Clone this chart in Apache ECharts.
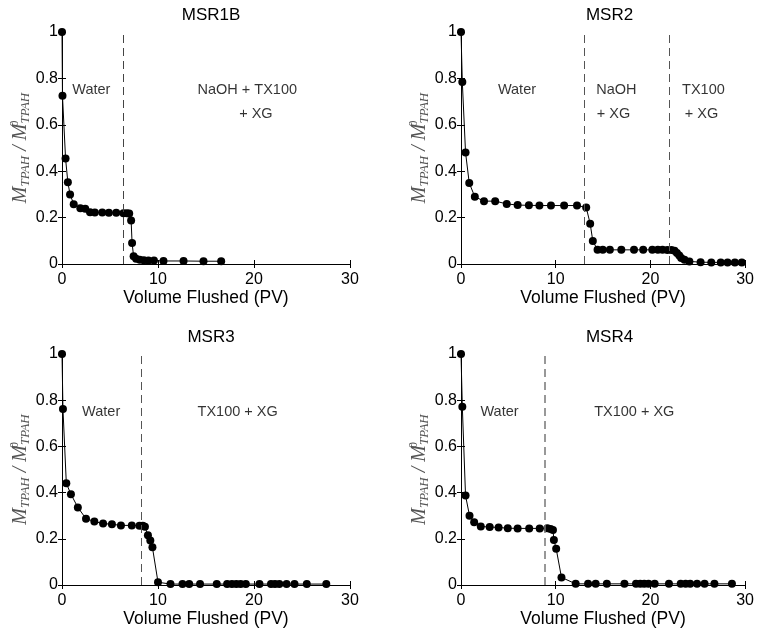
<!DOCTYPE html>
<html><head><meta charset="utf-8">
<script src="https://cdn.jsdelivr.net/npm/echarts@6/dist/echarts.min.js"></script>
<style>html,body{margin:0;padding:0;background:#fff}#c{width:757px;height:635px}</style>
</head><body><div id="c"></div>
<script>
// ---- data ----
const titles = ['MSR1B', 'MSR2', 'MSR3', 'MSR4'];
const xTickValues = [0, 10, 20, 30];
const yTickValues = [0, 0.2, 0.4, 0.6, 0.8, 1];

const x1 = [0, 0.05, 0.37, 0.61, 0.84, 1.22, 1.91, 2.42, 2.92, 3.42, 4.19, 4.88, 5.65, 6.4, 6.75, 7.0, 7.2, 7.3, 7.46, 7.72, 8.1, 8.52, 9.0, 9.58, 10.57, 12.66, 14.74, 16.58];
const y1 = [1.0, 0.725, 0.455, 0.352, 0.30, 0.258, 0.24, 0.238, 0.223, 0.222, 0.222, 0.221, 0.221, 0.219, 0.219, 0.218, 0.188, 0.09, 0.033, 0.023, 0.018, 0.016, 0.015, 0.015, 0.013, 0.013, 0.012, 0.012];

const x2 = [0, 0.14, 0.48, 0.87, 1.46, 2.43, 3.61, 4.83, 5.98, 7.17, 8.28, 9.5, 10.89, 12.25, 13.22, 13.64, 13.92, 14.42, 14.97, 15.72, 16.93, 18.27, 19.24, 20.2, 20.79, 21.28, 21.79, 22.22, 22.55, 22.8, 23.05, 23.25, 23.6, 24.12, 25.3, 26.43, 27.43, 28.15, 28.92, 29.65];
const y2 = [1.0, 0.784, 0.481, 0.349, 0.29, 0.271, 0.271, 0.259, 0.254, 0.253, 0.252, 0.252, 0.252, 0.252, 0.244, 0.174, 0.099, 0.061, 0.061, 0.061, 0.061, 0.061, 0.061, 0.061, 0.061, 0.061, 0.06, 0.06, 0.057, 0.047, 0.037, 0.026, 0.018, 0.011, 0.008, 0.007, 0.007, 0.007, 0.007, 0.007];

const x3 = [0, 0.1, 0.45, 0.93, 1.65, 2.5, 3.37, 4.28, 5.2, 6.14, 7.27, 8.07, 8.42, 8.64, 8.95, 9.2, 9.42, 10.0, 11.3, 12.55, 13.25, 14.38, 16.12, 17.2, 17.7, 18.16, 18.61, 19.15, 20.57, 21.77, 22.19, 22.64, 23.39, 24.22, 25.5, 27.53];
const y3 = [1.0, 0.762, 0.44, 0.393, 0.336, 0.287, 0.275, 0.266, 0.263, 0.258, 0.258, 0.257, 0.256, 0.252, 0.215, 0.193, 0.163, 0.012, 0.004, 0.004, 0.004, 0.004, 0.004, 0.004, 0.004, 0.004, 0.004, 0.004, 0.004, 0.004, 0.004, 0.004, 0.004, 0.004, 0.004, 0.004];

const x4 = [0, 0.14, 0.48, 0.9, 1.39, 2.09, 3.03, 3.97, 4.94, 5.98, 7.2, 8.31, 9.12, 9.46, 9.71, 9.81, 10.05, 10.61, 12.11, 13.42, 14.22, 15.4, 17.26, 18.48, 18.93, 19.35, 19.8, 20.45, 21.96, 23.2, 23.72, 24.2, 24.93, 25.72, 26.76, 28.61];
const y4 = [1.0, 0.772, 0.387, 0.3, 0.272, 0.253, 0.251, 0.249, 0.246, 0.245, 0.245, 0.245, 0.246, 0.242, 0.238, 0.195, 0.157, 0.033, 0.005, 0.005, 0.005, 0.005, 0.005, 0.005, 0.005, 0.005, 0.005, 0.005, 0.005, 0.005, 0.005, 0.005, 0.005, 0.005, 0.005, 0.005];

const dividers1 = [6.36];
const dividers2 = [13.0, 22.0];
const dividers3 = [8.28];
const dividers4 = [8.87];

const notes1 = [['Water', 3.06, 0.748], ['NaOH + TX100', 19.3, 0.748], ['+ XG', 20.2, 0.647]];
const notes2 = [['Water', 5.91, 0.748], ['NaOH', 16.4, 0.748], ['+ XG', 16.1, 0.647], ['TX100', 25.6, 0.748], ['+ XG', 25.4, 0.647]];
const notes3 = [['Water', 4.08, 0.748], ['TX100 + XG', 18.3, 0.748]];
const notes4 = [['Water', 4.07, 0.748], ['TX100 + XG', 18.3, 0.748]];

const xLabel = 'Volume Flushed (PV)';

// ---- chart ----
const panels = [
  {x: x1, y: y1, div: dividers1, notes: notes1, dash: '#444', dw: 1},
  {x: x2, y: y2, div: dividers2, notes: notes2, dash: '#555', dw: 1},
  {x: x3, y: y3, div: dividers3, notes: notes3, dash: '#555', dw: 1},
  {x: x4, y: y4, div: dividers4, notes: notes4, dash: '#777', dw: 1.5}
];
const grids = [
  {left: 62, top: 32, width: 288, height: 232},
  {left: 461, top: 32, width: 287, height: 232},
  {left: 62, top: 354, width: 288, height: 231},
  {left: 461, top: 354, width: 287, height: 231}
];
const FONT = 'Liberation Sans';
const yName = '{m|M}{s|TPAH}{m| / M}{p|0}{s|TPAH}';

const option = {
  animation: false,
  backgroundColor: '#fff',
  title: [], grid: [], xAxis: [], yAxis: [], series: []
};

grids.forEach((g, i) => {
  option.grid.push(g);
  option.title.push({
    text: titles[i], left: g.left + g.width / 2, textAlign: 'center',
    top: g.top - 30,
    textStyle: {fontFamily: FONT, fontSize: 17, fontWeight: 'normal', color: '#000'}
  });
  const axLine = {show: true, lineStyle: {color: '#000', width: 1}};
  option.xAxis.push({
    type: 'value', gridIndex: i, min: 0, max: 30, interval: 10, position: 'bottom',
    axisLine: axLine, axisTick: {show: true, inside: true, length: 4, lineStyle: {color: '#000'}},
    splitLine: {show: false},
    axisLabel: {fontFamily: FONT, fontSize: 16, color: '#000', margin: 8,
      customValues: xTickValues},
    name: xLabel, nameLocation: 'middle', nameGap: 25,
    nameTextStyle: {fontFamily: FONT, fontSize: 17.5, color: '#000'}
  });
  option.xAxis.push({
    type: 'value', gridIndex: i, min: 0, max: 30, interval: 10, position: 'top',
    axisLine: axLine, axisTick: {show: true, inside: true, length: 4, lineStyle: {color: '#000'}},
    splitLine: {show: false}, axisLabel: {show: false}
  });
  option.yAxis.push({
    type: 'value', gridIndex: i, min: 0, max: 1, interval: 0.2, position: 'left',
    axisLine: axLine, axisTick: {show: true, inside: true, length: 4, lineStyle: {color: '#000'}},
    splitLine: {show: false},
    axisLabel: {fontFamily: FONT, fontSize: 16, color: '#000', margin: 4,
      formatter: v => String(+v.toFixed(1))},
    name: yName, nameLocation: 'middle', nameGap: 30, nameRotate: 90,
    nameTextStyle: {
      color: '#555',
      rich: {
        m: {fontFamily: 'Liberation Serif', fontStyle: 'italic', fontSize: 20, lineHeight: 23, color: '#555', verticalAlign: 'middle'},
        s: {fontFamily: 'Liberation Serif', fontStyle: 'italic', fontSize: 13, lineHeight: 14, color: '#555', verticalAlign: 'bottom'},
        p: {fontFamily: 'Liberation Serif', fontSize: 12, lineHeight: 14, color: '#555', verticalAlign: 'top', width: 0}
      }
    }
  });
  option.yAxis.push({
    type: 'value', gridIndex: i, min: 0, max: 1, interval: 0.2, position: 'right',
    axisLine: axLine, axisTick: {show: true, inside: true, length: 4, lineStyle: {color: '#000'}},
    splitLine: {show: false}, axisLabel: {show: false}
  });
  const p = panels[i];
  option.series.push({
    type: 'line', xAxisIndex: 2 * i, yAxisIndex: 2 * i,
    data: p.x.map((v, k) => [v, p.y[k]]),
    symbol: 'circle', symbolSize: 8, showAllSymbol: true,
    lineStyle: {color: '#000', width: 1}, itemStyle: {color: '#000'},
    markLine: {
      silent: true, symbol: 'none', label: {show: false},
      lineStyle: {color: p.dash, width: p.dw, type: [8, 5]},
      data: p.div.map(d => ({xAxis: d}))
    },
    z: 3
  });
  option.series.push({
    type: 'scatter', xAxisIndex: 2 * i, yAxisIndex: 2 * i, silent: true,
    symbolSize: 1, itemStyle: {color: 'rgba(0,0,0,0)'},
    data: p.notes.map(n => ({name: n[0], value: [n[1], n[2]]})),
    label: {show: true, position: 'inside', formatter: '{b}',
      fontFamily: FONT, fontSize: 14.5, color: '#000'}
  });
});

const chart = echarts.init(document.getElementById('c'), null, {renderer: 'canvas'});
chart.setOption(option);
</script>
</body></html>
